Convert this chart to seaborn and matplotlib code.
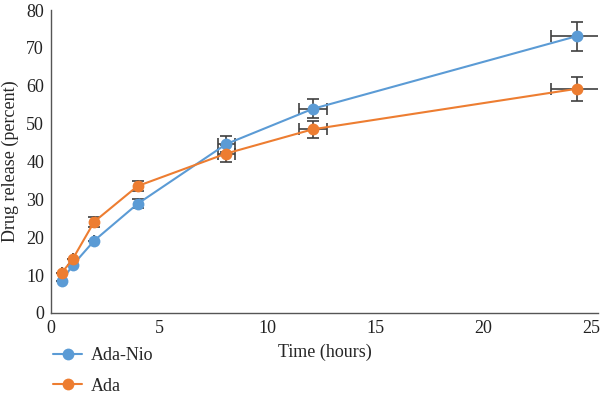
import pandas as pd
import matplotlib
matplotlib.use('Agg')
import matplotlib.pyplot as plt
import seaborn as sns

# Release data
time_nio = [0.5, 1.0, 2.0, 4.0, 8.1, 12.1, 24.3]
release_nio = [8.4, 12.6, 19.1, 28.8, 44.6, 53.9, 73.1]
yerr_nio = [0.0, 0.0, 0.0, 1.2, 2.2, 2.5, 3.8]
xerr_nio = [0.0, 0.0, 0.0, 0.0, 0.4, 0.65, 1.2]

time_ada = [0.5, 1.0, 2.0, 4.0, 8.1, 12.1, 24.3]
release_ada = [10.6, 14.2, 24.1, 33.5, 42.1, 48.5, 59.2]
yerr_ada = [0.0, 0.0, 1.3, 1.3, 2.2, 2.3, 3.1]
xerr_ada = [0.0, 0.0, 0.0, 0.0, 0.4, 0.65, 1.2]

series_names = ['Ada-Nio', 'Ada']
colors = ['#5B9BD5', '#ED7D31']

df = pd.DataFrame({
    'time': time_nio + time_ada,
    'release': release_nio + release_ada,
    'group': [series_names[0]] * len(time_nio) + [series_names[1]] * len(time_ada),
})

sns.set_style('white')
plt.rcParams['font.family'] = 'serif'
plt.rcParams['font.serif'] = ['Liberation Serif', 'DejaVu Serif']
plt.rcParams['font.size'] = 13

fig = plt.figure(figsize=(6, 4.2), dpi=100)
ax = fig.add_axes([0.085, 0.255, 0.912, 0.721])

# error bars first so markers sit on top
ax.errorbar(time_nio, release_nio, yerr=yerr_nio, xerr=xerr_nio, fmt='none',
            ecolor='#404040', elinewidth=1.2, capsize=4, capthick=1.2, zorder=1)
ax.errorbar(time_ada, release_ada, yerr=yerr_ada, xerr=xerr_ada, fmt='none',
            ecolor='#404040', elinewidth=1.2, capsize=4, capthick=1.2, zorder=1)

sns.lineplot(data=df, x='time', y='release', hue='group', palette=colors,
             marker='o', markersize=8.5, markeredgewidth=0, linewidth=1.5,
             ax=ax, zorder=3)

ax.set_xlim(0, 25.3)
ax.set_ylim(0, 80)
ax.set_xticks([0, 5, 10, 15, 20, 25])
ax.set_yticks(range(0, 81, 10))
ax.set_xlabel('Time (hours)', fontsize=13, labelpad=5)
ax.set_ylabel('Drug release (percent)', fontsize=13, labelpad=5)
ax.tick_params(length=0, labelsize=13, colors='#222222', pad=5)

for side in ['top', 'right']:
    ax.spines[side].set_visible(False)
for side in ['left', 'bottom']:
    ax.spines[side].set_color('#555555')
    ax.spines[side].set_linewidth(1.0)

sns.move_legend(ax, 'upper left', bbox_to_anchor=(0.062, 0.212),
                bbox_transform=fig.transFigure, frameon=False, title=None,
                fontsize=13, labelspacing=0.75, handlelength=1.6,
                handletextpad=0.45)

plt.savefig('out.png', dpi=100)
